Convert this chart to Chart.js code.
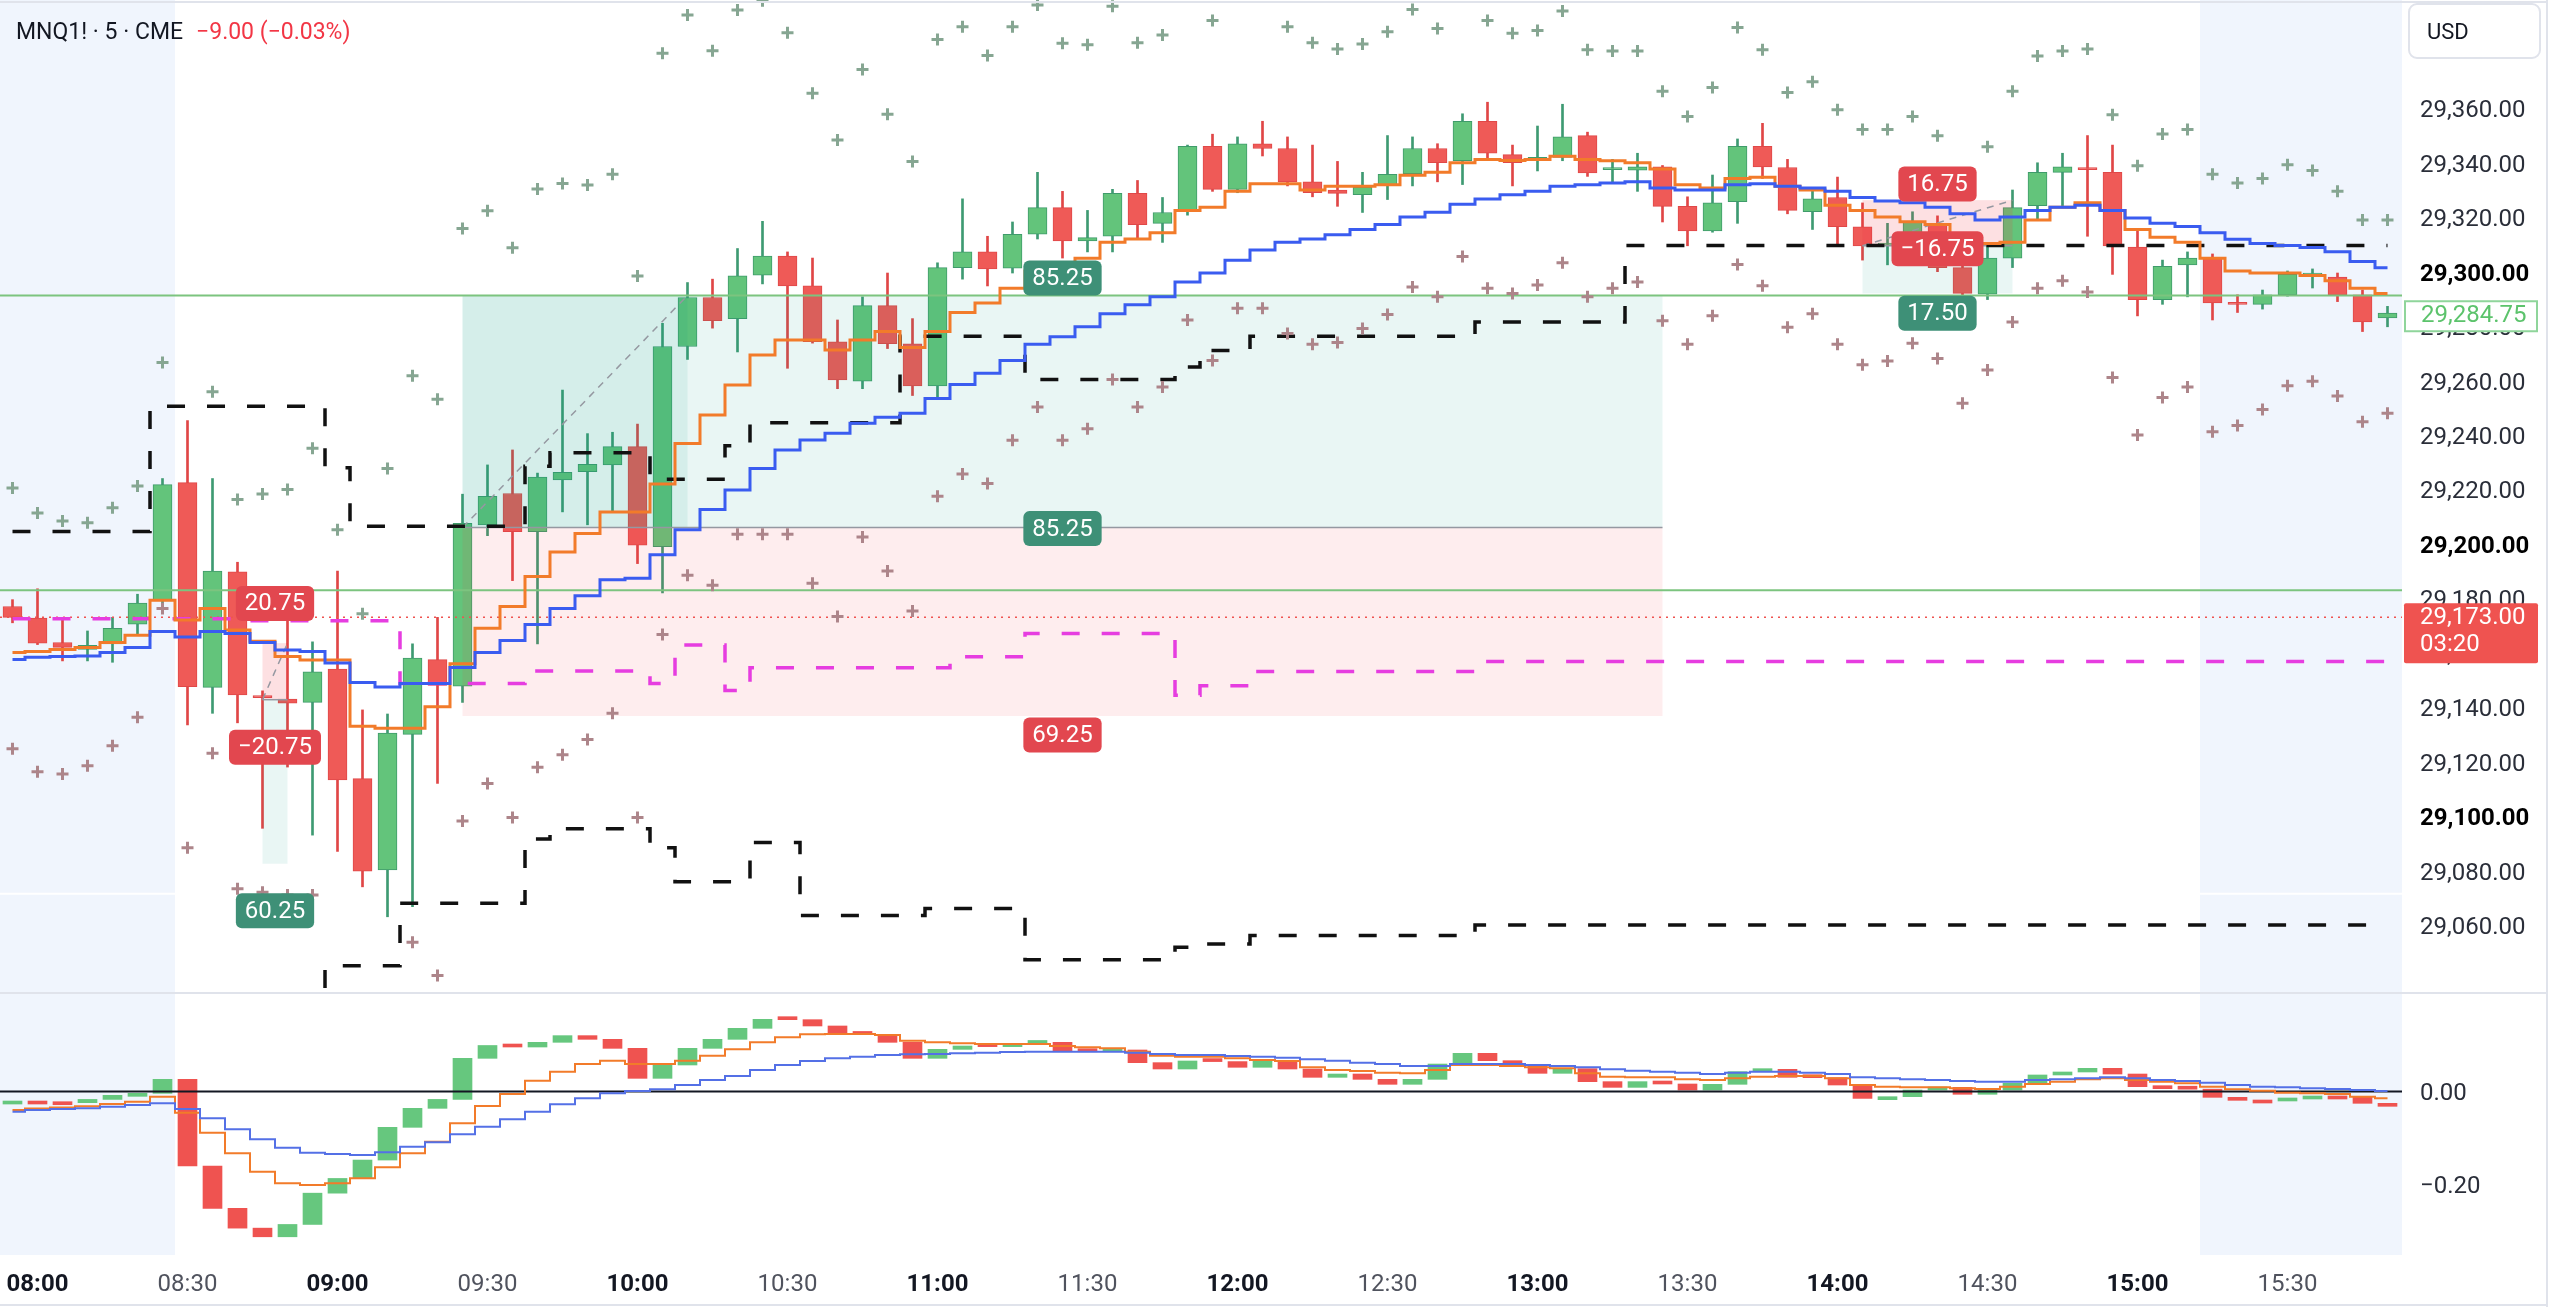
<!DOCTYPE html>
<html>
<head>
<meta charset="utf-8">
<title>MNQ1! 5m</title>
<script src="https://cdn.jsdelivr.net/npm/chart.js@4.4.0/dist/chart.umd.min.js"></script>
<style>
html, body { margin: 0; padding: 0; background: #fff; }
#wrap { width: 2560px; height: 1307px; }
</style>
</head>
<body>
<div id="wrap"><canvas id="myChart" width="2560" height="1307"></canvas></div>
<script>
// 5 minute bars, first bar 07:55
const firstBar = '07:55';
const timeTicks = ['08:00', '08:30', '09:00', '09:30', '10:00', '10:30', '11:00', '11:30',
    '12:00', '12:30', '13:00', '13:30', '14:00', '14:30', '15:00', '15:30'];
const priceTicks = [29060, 29080, 29100, 29120, 29140, 29160, 29180, 29200, 29220, 29240,
    29260, 29280, 29300, 29320, 29340, 29360];
const oscTicks = [0, -0.2];

const opens = [
    29177, 29172.75, 29163.75, 29161.25, 29163.25, 29170.5, 29179, 29222.5, 29147.25, 29189.75, 29144.25, 29143,
    29141.75, 29154, 29113.75, 29080.25, 29130, 29157.5, 29147.75, 29207, 29218.5, 29204.5, 29223.5, 29226.5,
    29229, 29235.75, 29199, 29272.5, 29290.5, 29282.75, 29298.75, 29305.75, 29294.75, 29274.25, 29259.75, 29287.5,
    29273.5, 29258, 29301.5, 29307.25, 29301.25, 29313.75, 29323.5, 29311.25, 29313, 29328.75, 29317.75, 29322,
    29346, 29330.25, 29347, 29345.25, 29333, 29330, 29328.25, 29331.75, 29336, 29345.25, 29340.75, 29355.25,
    29343, 29340.75, 29342, 29350, 29337.5, 29337.25, 29338.5, 29324, 29315, 29325.75, 29346, 29338.25,
    29322, 29327.25, 29316.5, 29309.75, 29310.5, 29317, 29301.5, 29291.75, 29305, 29324.25, 29336.5, 29338,
    29336.5, 29309, 29289.75, 29302.5, 29305, 29288.5, 29288, 29291.5, 29298.75, 29298, 29291.5, 29283
];
const highs = [
    29179.5, 29183.5, 29172, 29168, 29173, 29181.5, 29224, 29245.25, 29224, 29193.25, 29146, 29173,
    29164, 29190, 29139, 29137.5, 29163.25, 29173, 29218.25, 29229, 29234.5, 29226, 29256.5, 29240.5,
    29241, 29244, 29281, 29296, 29297.25, 29308.5, 29318.5, 29307.25, 29305, 29282.25, 29290.75, 29299.5,
    29282.75, 29303.25, 29326.75, 29313, 29318.25, 29336.5, 29329.5, 29322.5, 29330.25, 29333.5, 29327.25, 29346.5,
    29350.5, 29349.5, 29355.25, 29349.5, 29346.5, 29340.5, 29336.5, 29350, 29349.5, 29347, 29358, 29362.25,
    29346.5, 29353.5, 29361.5, 29351.25, 29341.25, 29343.5, 29339, 29327.5, 29335.5, 29348.75, 29354.5, 29341.25,
    29330.75, 29334.75, 29325.25, 29317.75, 29322, 29320.5, 29303.75, 29310, 29330, 29340, 29343.5, 29350,
    29346.5, 29315.5, 29304.25, 29307.25, 29306.5, 29291.5, 29293.25, 29300.25, 29301, 29299.5, 29293.25, 29287.25
];
const lows = [
    29171, 29163, 29157, 29157, 29156.5, 29166.5, 29175.5, 29133.5, 29137.75, 29134.25, 29095.5, 29118,
    29093, 29087, 29074, 29063, 29066.75, 29112, 29141.75, 29203, 29186.5, 29163.25, 29211.75, 29207,
    29211.75, 29192.75, 29182, 29267.75, 29279.25, 29270.5, 29295.5, 29264.5, 29273.75, 29257, 29257, 29271.75,
    29254.5, 29253.5, 29297.25, 29294.75, 29299.5, 29312, 29305, 29307.25, 29307.25, 29312, 29310.75, 29320.75,
    29329.5, 29329, 29342.5, 29331.5, 29327.5, 29324, 29321.75, 29326.5, 29331.5, 29333, 29332, 29341.75,
    29331.5, 29337, 29340.75, 29335, 29333, 29329.5, 29318.25, 29309.5, 29314.5, 29317.75, 29334.25, 29321.25,
    29315.5, 29310.25, 29304.25, 29302.5, 29308, 29300, 29291.5, 29289.75, 29301.5, 29319, 29323.5, 29313,
    29299, 29283.75, 29288, 29290.75, 29282.25, 29285, 29286.25, 29291, 29294, 29289, 29278, 29279.75
];
const closes = [
    29173, 29163.5, 29162, 29162.75, 29169, 29178.25, 29221.75, 29147.5, 29190, 29144.5, 29143.5, 29141.5,
    29153, 29113.25, 29079.75, 29130.5, 29158, 29148, 29207.5, 29217.5, 29204.5, 29224.5, 29226.25, 29229.25,
    29235.75, 29199.5, 29272.5, 29290.5, 29282, 29298.5, 29305.75, 29294.75, 29274.25, 29260.25, 29287.5, 29273.5,
    29258, 29301.5, 29307.25, 29301, 29313.75, 29323.5, 29311.25, 29312.5, 29328.75, 29317.25, 29321.75, 29346,
    29330.25, 29347, 29345.25, 29333, 29329, 29328.75, 29331, 29335.75, 29345.25, 29340, 29355.25, 29343.5,
    29340, 29342, 29349.5, 29336.25, 29338, 29338.5, 29324, 29315, 29325.25, 29346, 29338.5, 29322.5,
    29326.75, 29316.5, 29309.5, 29310.25, 29318.5, 29301.5, 29292, 29305, 29323.5, 29336.5, 29338.5, 29337.5,
    29309.5, 29289.75, 29302, 29305, 29288.5, 29288, 29291.5, 29299, 29299.25, 29291.5, 29281.5, 29284.75
];

// orange and blue step averages on price
const fastAvg = [
    29160.1, 29160.5, 29161.2, 29161.9, 29163.8, 29166.4, 29179.3, 29172, 29176.3, 29168.4, 29164.2, 29158.6,
    29157.3, 29157.3, 29133, 29132.3, 29132.3, 29140.2, 29156, 29169, 29177, 29188, 29197, 29203.8,
    29211.7, 29211.7, 29222, 29236.9, 29247.3, 29258.4, 29269.4, 29274.9, 29274.9, 29271.2, 29274.9, 29278,
    29272.1, 29278, 29285, 29288.5, 29293.9, 29300.2, 29302.6, 29304.9, 29310.8, 29312, 29314.3, 29322.5,
    29323.7, 29329.5, 29332.3, 29332.3, 29330, 29331.4, 29331.4, 29331.9, 29335.4, 29336.5, 29340, 29341.2,
    29340.8, 29341.2, 29342.4, 29341.2, 29340.7, 29340, 29337.7, 29331.9, 29330.7, 29334.2, 29334.7, 29331.4,
    29330, 29324.4, 29322.5, 29320.1, 29318.3, 29317.3, 29311.9, 29310.3, 29310.8, 29319, 29323.7, 29325.3,
    29322.5, 29315.5, 29312.6, 29310.8, 29304.9, 29300.2, 29299.5, 29299.5, 29298.6, 29296.7, 29293.9, 29292
];
const slowAvg = [
    29157.5, 29158.3, 29158.6, 29158.8, 29160.1, 29161.9, 29167.8, 29165.8, 29167.8, 29167.1, 29163.8, 29161,
    29160.5, 29156.2, 29149.1, 29147.4, 29148.7, 29148.7, 29154.6, 29160.1, 29164.5, 29170.4, 29176.3, 29180.9,
    29186.8, 29187.4, 29196, 29205.2, 29212.6, 29219.8, 29227.7, 29234.5, 29238.2, 29240.6, 29244.3, 29246.5,
    29248, 29253.4, 29258.5, 29262.7, 29267.4, 29273.3, 29276.1, 29279.8, 29284.5, 29287.8, 29290.8, 29296.2,
    29299.5, 29304.2, 29308, 29310.8, 29312, 29313.6, 29315.5, 29317.3, 29320.1, 29321.8, 29324.8, 29326.7,
    29328.3, 29329.5, 29331.4, 29331.9, 29332.6, 29333, 29330.7, 29330, 29330, 29331.9, 29332.3, 29331.4,
    29330.7, 29329.5, 29327.2, 29326, 29325.3, 29323.7, 29321.3, 29319, 29320.1, 29322.5, 29323.7, 29324.4,
    29322.5, 29319.7, 29317.8, 29316.6, 29314.3, 29311.9, 29310.3, 29309.6, 29308.9, 29307.3, 29303.7, 29301.4
];

// dashed levels
const bandUpper = [
    29204.5, 29204.5, 29204.5, 29204.5, 29204.5, 29204.5, 29250.6, 29250.6, 29250.6, 29250.6, 29250.6, 29250.6,
    29250.6, 29228, 29206.5, 29206.5, 29206.5, 29206.5, 29206.5, 29206.5, 29206.5, 29228.5, 29233.5, 29233.5,
    29233.5, 29233.5, 29223.7, 29223.7, 29223.7, 29236, 29244.5, 29244.5, 29244.5, 29244.5, 29244.5, 29244.5,
    29276.3, 29276.3, 29276.3, 29276.3, 29276.3, 29260.4, 29260.4, 29260.4, 29260.4, 29260.4, 29260.4, 29265,
    29271, 29271, 29276.3, 29276.3, 29276.3, 29276.3, 29276.3, 29276.3, 29276.3, 29276.3, 29276.3, 29281.5,
    29281.5, 29281.5, 29281.5, 29281.5, 29281.5, 29309.6, 29309.6, 29309.6, 29309.6, 29309.6, 29309.6, 29309.6,
    29309.6, 29309.6, 29309.6, 29309.6, 29309.6, 29309.6, 29309.6, 29309.6, 29309.6, 29309.6, 29309.6, 29309.6,
    29309.6, 29309.6, 29309.6, 29309.6, 29309.6, 29309.6, 29309.6, 29309.6, 29309.6, 29309.6, 29309.6, 29309.6
];
const bandLower = [
    28990, 28990, 28990, 28990, 28990, 28990, 29020, 29020, 29020, 29020, 29020, 29020,
    29020, 29045, 29045, 29045, 29068, 29068, 29068, 29068, 29068, 29091.6, 29095.3, 29095.3,
    29095.3, 29095.3, 29088.4, 29075.9, 29075.9, 29075.9, 29090.3, 29090.3, 29063.5, 29063.5, 29063.5, 29063.5,
    29063.5, 29066, 29066, 29066, 29066, 29047.2, 29047.2, 29047.2, 29047.2, 29047.2, 29047.2, 29051.8,
    29053, 29053, 29056.1, 29056.1, 29056.1, 29056.1, 29056.1, 29056.1, 29056.1, 29056.1, 29056.1, 29060,
    29060, 29060, 29060, 29060, 29060, 29060, 29060, 29060, 29060, 29060, 29060, 29060,
    29060, 29060, 29060, 29060, 29060, 29060, 29060, 29060, 29060, 29060, 29060, 29060,
    29060, 29060, 29060, 29060, 29060, 29060, 29060, 29060, 29060, 29060, 29060, 29060
];
const bandMid = [
    29172.5, 29172.5, 29172.5, 29172.5, 29172.5, 29172.5, 29172.5, 29172.5, 29172.5, 29172.5, 29171.75, 29171.75,
    29171.75, 29171.75, 29171.75, 29171.75, 29148.7, 29148.7, 29148.7, 29148.7, 29148.7, 29153.3, 29153.3, 29153.3,
    29153.3, 29153.3, 29148.7, 29162.8, 29162.8, 29146.1, 29154.5, 29154.5, 29154.5, 29154.5, 29154.5, 29154.5,
    29154.5, 29154.5, 29158.5, 29158.5, 29158.5, 29167.1, 29167.1, 29167.1, 29167.1, 29167.1, 29167.1, 29144.4,
    29147.9, 29147.9, 29153.1, 29153.1, 29153.1, 29153.1, 29153.1, 29153.1, 29153.1, 29153.1, 29153.1, 29156.8,
    29156.8, 29156.8, 29156.8, 29156.8, 29156.8, 29156.8, 29156.8, 29156.8, 29156.8, 29156.8, 29156.8, 29156.8,
    29156.8, 29156.8, 29156.8, 29156.8, 29156.8, 29156.8, 29156.8, 29156.8, 29156.8, 29156.8, 29156.8, 29156.8,
    29156.8, 29156.8, 29156.8, 29156.8, 29156.8, 29156.8, 29156.8, 29156.8, 29156.8, 29156.8, 29156.8, 29156.8
];

// cross markers
const crossUp = [
    29220.5, 29211.3, 29208.4, 29207.8, 29213.3, 29221.3, 29266.6, null, 29255.9, 29216.3, 29218.3, 29220,
    29235.1, 29205.2, 29174.3, 29227.7, 29261.8, 29253.1, 29315.9, 29322.4, 29308.8, 29330.4, 29332.4, 29331.8,
    29335.8, 29298.4, 29380.2, 29394.3, 29381.2, 29396.1, 29399.5, 29387.8, 29365.5, 29348.4, 29374.3, 29357.8,
    29340.5, 29385.3, 29390, 29379.4, 29390, 29398, 29383.9, 29383.4, 29397.5, 29384.1, 29386.9, null,
    29392.3, null, null, 29390, 29384.1, 29381.8, 29383.6, 29388.1, 29396.3, 29389.3, null, 29392.3,
    29387.6, 29388.6, 29395.8, 29381.5, 29381.1, 29381.1, 29366.3, 29357, 29367.7, 29389.7, 29381.5, 29365.8,
    29369.8, 29359.5, 29352.2, 29352.2, 29357, 29349.9, 29333, 29345.9, 29366.3, 29379.2, 29381.1, 29381.8,
    29357.6, 29338.9, 29350.6, 29352.2, 29335.8, 29332.6, 29334.2, 29339.3, 29337.2, 29329.5, 29319, 29319
];
const crossDown = [
    29124.7, 29116.3, 29115.5, 29118.5, 29125.8, 29136.3, 29176.3, 29088.4, 29123.1, 29073.3, 29072, 29071,
    29071, null, null, null, 29053.6, 29041.4, 29098.2, 29112, 29099.5, 29117.9, 29122.5, 29128.1,
    29137.8, 29099.5, 29166.7, 29188.5, 29184.8, 29203.5, 29203.5, 29203.5, 29185.5, 29173.3, 29202.5, 29190,
    29175.3, 29217.5, 29225.7, 29222.2, 29238.1, 29250.3, 29238.1, 29242.3, 29260.4, 29250.3, 29257.6, 29282.2,
    29267.4, 29286.6, 29286.6, 29277.3, 29273.3, 29274, 29279.1, 29284.3, 29294.4, 29290.8, 29305.6, 29293.9,
    29292, 29295.1, 29303.3, 29290.8, 29293.9, 29296.2, 29282, 29273.3, 29283.8, 29302.6, 29294.8, 29279.6,
    29284.5, 29273.3, 29265.8, 29267.2, 29273.7, 29268.1, 29251.7, 29263.9, 29281.5, 29293.9, 29296.7, 29292.5,
    29261.1, 29240, 29253.8, 29257.6, 29241.2, 29243.5, 29249.4, 29258.1, 29259.7, 29254.3, 29244.9, 29248
];

// lower pane oscillator
const oscOpen = -0.0215;
const osc = [
    -0.0207, -0.0222, -0.0243, -0.0172, -0.0083, -0.004, 0.0264, -0.162, -0.254, -0.297, -0.3158, -0.289,
    -0.221, -0.189, -0.149, -0.0779, -0.0366, -0.0172, 0.0721, 0.1, 0.0967, 0.1069, 0.1214, 0.1134,
    0.0938, 0.0286, 0.0576, 0.0938, 0.1134, 0.1373, 0.1569, 0.1561, 0.1424, 0.125, 0.124, 0.1069,
    0.0721, 0.0916, 0.0989, 0.0975, 0.1044, 0.1069, 0.088, 0.0865, 0.0902, 0.0627, 0.0489, 0.0663,
    0.065, 0.0526, 0.0663, 0.0489, 0.0308, 0.038, 0.0264, 0.0156, 0.0264, 0.0597, 0.083, 0.067,
    0.0576, 0.0395, 0.0496, 0.0214, 0.009, 0.0214, 0.0163, 0.0032, 0.0156, 0.0431, 0.0482, 0.0308,
    0.03, 0.0141, -0.015, -0.0113, 0.0032, 0.009, -0.0061, 0.0032, 0.0177, 0.0359, 0.0424, 0.0504,
    0.038, 0.0105, 0.0061, 0.005, -0.0127, -0.0185, -0.0195, -0.0141, -0.0098, -0.011, -0.0257, -0.0265
];
const oscFast = [
    -0.04, -0.037, -0.035, -0.032, -0.0272, -0.0222, -0.0112, -0.046, -0.0894, -0.1344, -0.1743, -0.1996,
    -0.2033, -0.1996, -0.1888, -0.1648, -0.1344, -0.109, -0.0692, -0.0315, -0.0054, 0.0236, 0.0431, 0.0598,
    0.067, 0.0598, 0.0598, 0.067, 0.0779, 0.0917, 0.1069, 0.1178, 0.1243, 0.125, 0.125, 0.1228,
    0.1105, 0.1069, 0.1047, 0.1033, 0.1033, 0.1033, 0.0989, 0.096, 0.0938, 0.0866, 0.0779, 0.0757,
    0.0757, 0.0721, 0.0685, 0.0663, 0.0525, 0.0467, 0.0446, 0.0409, 0.0395, 0.0467, 0.0576, 0.0576,
    0.0554, 0.0525, 0.0504, 0.0395, 0.0322, 0.0308, 0.0308, 0.0264, 0.025, 0.0286, 0.0322, 0.0337,
    0.0337, 0.0286, 0.0141, 0.0105, 0.009, 0.009, 0.0069, 0.0054, 0.0105, 0.0163, 0.0214, 0.0264,
    0.0286, 0.025, 0.0214, 0.0177, 0.0105, 0.0047, 0.0018, -0.0025, -0.004, -0.0054, -0.0112, -0.0149
];
const oscSlow = [
    -0.0438, -0.0402, -0.038, -0.0366, -0.033, -0.0293, -0.0257, -0.038, -0.0583, -0.0822, -0.104, -0.1222,
    -0.133, -0.1359, -0.1381, -0.1323, -0.12, -0.1105, -0.0931, -0.0764, -0.0605, -0.0438, -0.0279, -0.0149,
    -0.004, 0.0011, 0.0047, 0.0141, 0.025, 0.0337, 0.0467, 0.0576, 0.0663, 0.0721, 0.0757, 0.0793,
    0.0808, 0.0815, 0.083, 0.0844, 0.0858, 0.0866, 0.0866, 0.0866, 0.0866, 0.0844, 0.0815, 0.0793,
    0.0793, 0.0771, 0.0757, 0.0735, 0.0699, 0.067, 0.0627, 0.0598, 0.0554, 0.0554, 0.0598, 0.0598,
    0.0598, 0.0576, 0.0554, 0.0525, 0.0482, 0.0453, 0.0431, 0.0409, 0.038, 0.0409, 0.0431, 0.0431,
    0.0409, 0.038, 0.0308, 0.0286, 0.0264, 0.025, 0.0228, 0.0214, 0.0214, 0.025, 0.0264, 0.0286,
    0.0308, 0.0286, 0.025, 0.0228, 0.0192, 0.0141, 0.0105, 0.009, 0.0069, 0.0054, 0.0032, 0.0011
];

// position tools (bar index / price)
const posFrom = [18, 10, 74];
const posTo = [66, 11, 80];
const posEntry = [29206, 29142.75, 29309.5];
const posTarget = [29291.25, 29082.5, 29292];
const posStop = [29136.75, 29163.5, 29326.25];
const posExitBar = [27, 11, 80];
const posExitPrice = [29291.25, 29163.5, 29326.25];

const tagText = ['85.25', '85.25', '69.25', '20.75', '\u221220.75', '60.25', '16.75', '\u221216.75', '17.50'];
const tagBar = [42, 42, 42, 10.5, 10.5, 10.5, 77, 77, 77];
const tagPrice = [29297.7, 29205.6, 29129.8, 29178.1, 29125.3, 29065.2, 29332.2, 29308.4, 29284.7];
const tagWin = [true, true, false, false, false, true, false, false, true];

const greenLevels = [29291.25, 29183];
const livePrice = 29173;
const liveCountdown = '03:20';
const whiteLevel = 29071.5;
const sessionEdges = [6.5, 87.5];

const FONT = 'Roboto';
const GREEN = '#63c47b', RED = '#ef5350';
const mainH = 993, subH = 262;

const toMin = (t) => parseInt(t.slice(0, 2)) * 60 + parseInt(t.slice(3));
const tickBars = timeTicks.map((t) => (toMin(t) - toMin(firstBar)) / 5);
const isHour = (v) => {
    const k = tickBars.indexOf(v);
    return k >= 0 && timeTicks[k].endsWith(':00');
};

const fmtPrice = (v) => v.toLocaleString('en-US', {minimumFractionDigits: 2, maximumFractionDigits: 2});

const xy = (arr) => arr.map((v, i) => ({x: i, y: v}));
const up = closes.map((c, i) => c >= opens[i]);
const oscUp = osc.map((v, i) => v >= (i === 0 ? oscOpen : osc[i - 1]));

function noPad(s) {
    s.paddingLeft = 0;
    s.paddingRight = 0;
    s.paddingTop = 0;
    s.paddingBottom = 0;
}

function roundBox(ctx, x, y, w, h, r) {
    ctx.beginPath();
    ctx.roundRect(x, y, w, h, r);
}

const overlay = {
    id: 'overlay',
    beforeDatasetsDraw(chart) {
        const {ctx, chartArea: a, scales: {x, y}} = chart;
        ctx.save();
        ctx.fillStyle = '#f0f5fd';
        const x1 = x.getPixelForValue(sessionEdges[0]);
        const x2 = x.getPixelForValue(sessionEdges[1]);
        ctx.fillRect(a.left, a.top, x1 - a.left, a.bottom - a.top);
        ctx.fillRect(x2, a.top, a.right - x2, a.bottom - a.top);
        const wy = y.getPixelForValue(whiteLevel);
        ctx.strokeStyle = '#ffffff';
        ctx.lineWidth = 2;
        ctx.beginPath();
        ctx.moveTo(a.left, wy);
        ctx.lineTo(a.right, wy);
        ctx.stroke();
        ctx.restore();
    },
    afterDatasetDraw(chart, args) {
        const label = chart.data.datasets[args.index].label;
        const {ctx, chartArea: a, scales: {x, y, y2}} = chart;
        if (label === 'osc') {
            const zy = y2.getPixelForValue(0);
            ctx.save();
            ctx.strokeStyle = '#131722';
            ctx.lineWidth = 2;
            ctx.beginPath();
            ctx.moveTo(a.left, zy);
            ctx.lineTo(a.right, zy);
            ctx.stroke();
            ctx.restore();
            return;
        }
        if (label !== 'bodies') return;
        ctx.save();
        for (let k = 0; k < posFrom.length; k++) {
            const l = x.getPixelForValue(posFrom[k]);
            const r = x.getPixelForValue(posTo[k]);
            const ye = y.getPixelForValue(posEntry[k]);
            const yt = y.getPixelForValue(posTarget[k]);
            const ys = y.getPixelForValue(posStop[k]);
            ctx.fillStyle = 'rgba(8,153,129,0.09)';
            ctx.fillRect(l, Math.min(ye, yt), r - l, Math.abs(yt - ye));
            ctx.fillStyle = 'rgba(242,54,69,0.09)';
            ctx.fillRect(l, Math.min(ye, ys), r - l, Math.abs(ys - ye));
            const xe = x.getPixelForValue(posExitBar[k]);
            const yx = y.getPixelForValue(posExitPrice[k]);
            const win = posExitPrice[k] === posTarget[k];
            ctx.fillStyle = win ? 'rgba(8,153,129,0.09)' : 'rgba(242,54,69,0.07)';
            ctx.fillRect(l, Math.min(ye, yx), xe - l, Math.abs(yx - ye));
            ctx.strokeStyle = '#9598a1';
            ctx.lineWidth = 1.5;
            ctx.setLineDash([]);
            ctx.beginPath();
            ctx.moveTo(l, ye);
            ctx.lineTo(r, ye);
            ctx.stroke();
            ctx.setLineDash([7, 6]);
            ctx.beginPath();
            ctx.moveTo(l, ye);
            ctx.lineTo(xe, yx);
            ctx.stroke();
        }
        ctx.setLineDash([]);
        ctx.strokeStyle = '#7cc47f';
        ctx.lineWidth = 2;
        greenLevels.forEach((p) => {
            const gy = y.getPixelForValue(p);
            ctx.beginPath();
            ctx.moveTo(a.left, gy);
            ctx.lineTo(a.right, gy);
            ctx.stroke();
        });
        ctx.strokeStyle = RED;
        ctx.lineWidth = 1.5;
        ctx.setLineDash([2, 5]);
        const ly = y.getPixelForValue(livePrice);
        ctx.beginPath();
        ctx.moveTo(a.left, ly);
        ctx.lineTo(a.right, ly);
        ctx.stroke();
        ctx.restore();
    },
    afterDatasetsDraw(chart) {
        const {ctx, scales: {x, y}} = chart;
        ctx.save();
        ctx.font = '24px ' + FONT;
        ctx.textAlign = 'center';
        ctx.textBaseline = 'middle';
        tagText.forEach((t, k) => {
            const cx = x.getPixelForValue(tagBar[k]);
            const cy = y.getPixelForValue(tagPrice[k]);
            const w = ctx.measureText(t).width + 18;
            const h = 35;
            ctx.fillStyle = tagWin[k] ? '#3e9077' : '#e2474f';
            roundBox(ctx, cx - w / 2, cy - h / 2, w, h, 6);
            ctx.fill();
            ctx.fillStyle = '#ffffff';
            ctx.fillText(t, cx, cy + 1);
        });
        ctx.restore();
    },
    afterDraw(chart) {
        const {ctx, chartArea: a, scales: {y}} = chart;
        const right = a.right;
        ctx.save();
        // pane separator and frame
        ctx.fillStyle = '#e0e3eb';
        ctx.fillRect(0, y.bottom - 1, 2547, 2);
        ctx.fillRect(0, 1, 2547, 2);
        ctx.fillRect(2546, 0, 2, 1307);
        ctx.fillRect(0, 1304, 2547, 2);

        // last price box
        const lastY = y.getPixelForValue(closes[closes.length - 1]);
        ctx.fillStyle = '#ffffff';
        ctx.strokeStyle = '#8fd59b';
        ctx.lineWidth = 2;
        ctx.beginPath();
        ctx.rect(right + 3, lastY - 12, 132, 30);
        ctx.fill();
        ctx.stroke();
        ctx.font = '24px ' + FONT;
        ctx.textAlign = 'left';
        ctx.textBaseline = 'middle';
        ctx.fillStyle = '#5cc36c';
        ctx.fillText(fmtPrice(closes[closes.length - 1]), right + 19, lastY + 3);

        // live price box
        const liveY = y.getPixelForValue(livePrice);
        ctx.fillStyle = RED;
        roundBox(ctx, right + 2, liveY - 14, 134, 60, 2);
        ctx.fill();
        ctx.fillStyle = '#ffffff';
        ctx.fillText(fmtPrice(livePrice), right + 18, liveY + 1);
        ctx.fillText(liveCountdown, right + 18, liveY + 28);

        // currency box
        ctx.fillStyle = '#ffffff';
        ctx.strokeStyle = '#e0e3eb';
        roundBox(ctx, right + 7, 4, 131, 54, 8);
        ctx.fill();
        ctx.stroke();
        ctx.fillStyle = '#131722';
        ctx.font = '22px ' + FONT;
        ctx.fillText('USD', right + 25, 33);

        // legend
        ctx.font = '23px ' + FONT;
        ctx.fillStyle = '#131722';
        const head = 'MNQ1! \u00b7 5 \u00b7 CME';
        ctx.fillText(head, 16, 33);
        const hw = ctx.measureText(head).width;
        ctx.fillStyle = '#f23645';
        ctx.fillText('\u22129.00 (\u22120.03%)', 16 + hw + 13, 33);
        ctx.restore();
    }
};

const ctx = document.getElementById('myChart').getContext('2d');
const myChart = new Chart(ctx, {
    type: 'bar',
    data: {
        datasets: [
            {
                type: 'line', label: 'cross up', yAxisID: 'y', data: xy(crossUp),
                showLine: false, pointStyle: 'cross', pointRadius: 6, pointBorderWidth: 3,
                pointBorderColor: '#86a692', pointBackgroundColor: '#86a692', order: 1
            },
            {
                type: 'line', label: 'cross down', yAxisID: 'y', data: xy(crossDown),
                showLine: false, pointStyle: 'cross', pointRadius: 6, pointBorderWidth: 3,
                pointBorderColor: '#ad858a', pointBackgroundColor: '#ad858a', order: 1
            },
            {
                type: 'line', label: 'slow', yAxisID: 'y', data: xy(slowAvg), stepped: 'middle',
                borderColor: '#3a5cf0', borderWidth: 3, pointRadius: 0, order: 2
            },
            {
                type: 'line', label: 'fast', yAxisID: 'y', data: xy(fastAvg), stepped: 'middle',
                borderColor: '#f27b2a', borderWidth: 3, pointRadius: 0, order: 3
            },
            {
                type: 'line', label: 'upper', yAxisID: 'y', data: xy(bandUpper), stepped: 'middle',
                borderColor: '#111111', borderWidth: 3.5, borderDash: [18, 22], pointRadius: 0, order: 4
            },
            {
                type: 'line', label: 'lower', yAxisID: 'y', data: xy(bandLower), stepped: 'middle',
                borderColor: '#111111', borderWidth: 3.5, borderDash: [18, 22], pointRadius: 0, order: 4
            },
            {
                type: 'line', label: 'mid', yAxisID: 'y', data: xy(bandMid), stepped: 'middle',
                borderColor: '#e63de0', borderWidth: 3.5, borderDash: [18, 22], pointRadius: 0, order: 4
            },
            {
                label: 'bodies', yAxisID: 'y', grouped: false, barThickness: 19, minBarLength: 2,
                data: opens.map((o, i) => ({x: i, y: [o, closes[i]]})),
                backgroundColor: up.map((u) => u ? GREEN : '#ef5a57'),
                borderColor: up.map((u) => u ? '#3f9b6b' : '#e04848'),
                borderWidth: 1, borderSkipped: false, order: 10
            },
            {
                label: 'wicks', yAxisID: 'y', grouped: false, barThickness: 2,
                data: lows.map((l, i) => ({x: i, y: [l, highs[i]]})),
                backgroundColor: up.map((u) => u ? '#3e9a72' : '#e04646'),
                borderWidth: 0, order: 11
            },
            {
                type: 'line', label: 'osc slow', yAxisID: 'y2', data: xy(oscSlow), stepped: 'middle',
                borderColor: '#5470e6', borderWidth: 2, pointRadius: 0, order: 5
            },
            {
                type: 'line', label: 'osc fast', yAxisID: 'y2', data: xy(oscFast), stepped: 'middle',
                borderColor: '#f27b2a', borderWidth: 2, pointRadius: 0, order: 5
            },
            {
                label: 'osc', yAxisID: 'y2', grouped: false, barThickness: 19, minBarLength: 3,
                data: osc.map((v, i) => ({x: i, y: [i === 0 ? oscOpen : osc[i - 1], v]})),
                backgroundColor: oscUp.map((u) => u ? '#66c77e' : RED),
                borderWidth: 0, order: 12
            }
        ]
    },
    options: {
        responsive: false,
        devicePixelRatio: 1,
        animation: false,
        events: [],
        layout: {autoPadding: false, padding: {left: 0, top: 0, right: 13, bottom: 0}},
        plugins: {legend: {display: false}, tooltip: {enabled: false}},
        scales: {
            x: {
                type: 'linear', min: -0.5, max: 95.58, offset: false,
                grid: {display: false, drawTicks: false}, border: {display: false},
                afterFit: (s) => { s.height = 52; noPad(s); },
                afterBuildTicks: (s) => { s.ticks = tickBars.map((v) => ({value: v})); },
                ticks: {
                    autoSkip: false, maxRotation: 0, padding: 16,
                    callback: (v) => timeTicks[tickBars.indexOf(v)],
                    font: (c) => ({family: FONT, size: 24,
                        weight: c.tick && isHour(c.tick.value) ? 'bold' : 'normal'}),
                    color: (c) => c.tick && isHour(c.tick.value) ? '#131722' : '#50535e'
                }
            },
            y: {
                type: 'linear', position: 'right', stack: 'panes', stackWeight: mainH,
                min: 29035, max: 29399.8, beginAtZero: false,
                grid: {display: false, drawTicks: false}, border: {display: false},
                afterFit: (s) => { s.width = 145; noPad(s); },
                afterBuildTicks: (s) => { s.ticks = priceTicks.map((v) => ({value: v})); },
                ticks: {
                    padding: 18, crossAlign: 'near', labelOffset: 3,
                    callback: (v) => fmtPrice(v),
                    font: (c) => ({family: FONT, size: 24,
                        weight: c.tick && c.tick.value % 100 === 0 ? 'bold' : 'normal'}),
                    color: (c) => c.tick && c.tick.value % 100 === 0 ? '#000000' : '#2a2e39'
                }
            },
            y2: {
                type: 'linear', position: 'right', stack: 'panes', stackWeight: subH,
                min: -0.3554, max: 0.2141, beginAtZero: false,
                grid: {display: false, drawTicks: false}, border: {display: false},
                afterFit: (s) => { s.width = 145; noPad(s); },
                afterBuildTicks: (s) => { s.ticks = oscTicks.map((v) => ({value: v})); },
                ticks: {
                    padding: 18, crossAlign: 'near', labelOffset: 3,
                    callback: (v) => (v < 0 ? '\u2212' : '') + Math.abs(v).toFixed(2),
                    font: {family: FONT, size: 24},
                    color: '#2a2e39'
                }
            }
        }
    },
    plugins: [overlay]
});
</script>
</body>
</html>
